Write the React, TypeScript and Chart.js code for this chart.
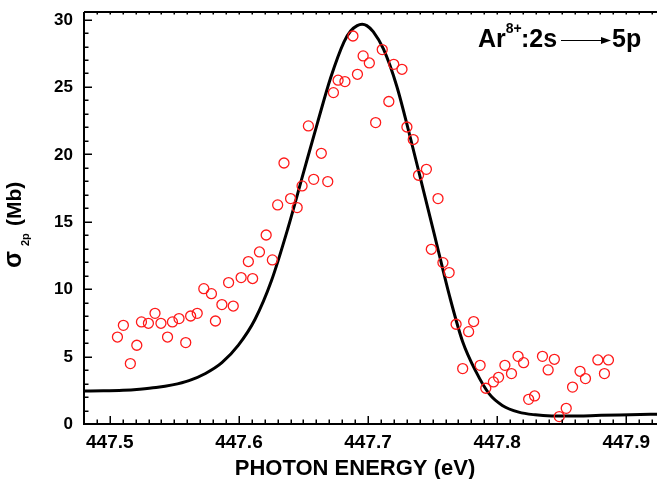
import { useEffect, useRef } from "react";
import { Chart, registerables } from "chart.js";

Chart.register(...registerables);

// Measured cross-section points (photon energy eV, sigma Mb)
const pointX = [
  447.5059, 447.5105, 447.5159, 447.5209, 447.5245, 447.5299, 447.535, 447.5396, 447.5447, 447.5485,
  447.5536, 447.5588, 447.5626, 447.5677, 447.5728, 447.5787, 447.5818, 447.5868, 447.592, 447.5956,
  447.6017, 447.6073, 447.6106, 447.6159, 447.6211, 447.6259, 447.63, 447.6349, 447.64, 447.6451,
  447.6489, 447.6538, 447.6579, 447.6638, 447.6688, 447.6732, 447.6768, 447.6821, 447.6883, 447.6918,
  447.6962, 447.701, 447.7059, 447.711, 447.7161, 447.7199, 447.7263, 447.7301, 447.735, 447.7391,
  447.7452, 447.749, 447.7542, 447.758, 447.7628, 447.7682, 447.7733, 447.7779, 447.7818, 447.7868,
  447.7912, 447.7971, 447.8011, 447.806, 447.8111, 447.8162, 447.8205, 447.8244, 447.829, 447.8351,
  447.8395, 447.8443, 447.8481, 447.8535, 447.8584, 447.8642, 447.8684, 447.878, 447.8831, 447.8862,
];
const pointY = [
  6.45, 7.32, 4.48, 5.84, 7.57, 7.47, 8.21, 7.47, 6.45, 7.57,
  7.82, 6.04, 8.01, 8.21, 10.04, 9.67, 7.64, 8.86, 10.49, 8.75,
  10.86, 12.05, 10.79, 12.76, 14.02, 12.17, 16.25, 19.36, 16.72, 16.05,
  17.66, 22.11, 18.15, 20.08, 17.98, 24.58, 25.5, 25.4, 28.78, 25.94,
  27.3, 26.78, 22.36, 27.77, 23.92, 26.68, 26.31, 22.03, 21.1, 18.45,
  18.89, 12.96, 16.72, 11.97, 11.23, 7.4, 4.11, 6.85, 7.6, 4.35,
  2.65, 3.12, 3.46, 4.35, 3.74, 5.02, 4.55, 1.83, 2.08, 5.02,
  4.01, 4.8, 0.55, 1.16, 2.74, 3.91, 3.37, 4.75, 3.74, 4.75,
];

// Fitted curve
const fitX = [
  447.4801, 447.4950, 447.5102, 447.5230, 447.5358, 447.5485, 447.5613, 447.5741, 447.5868, 447.5996,
  447.6124, 447.6251, 447.6379, 447.6507, 447.6609, 447.6711, 447.6814, 447.6865, 447.6916, 447.6954,
  447.6990, 447.7040, 447.7120, 447.7222, 447.7324, 447.7427, 447.7529, 447.7631, 447.7733, 447.7835,
  447.7937, 447.8040, 447.8167, 447.8295, 447.8423, 447.8550, 447.8806, 447.9189, 447.9290,
];
const fitY = [
  2.45, 2.46, 2.5, 2.58, 2.7, 2.9, 3.22, 3.75, 4.55, 5.85,
  7.75, 10.6, 14.5, 18.89, 22.36, 25.7, 28.35, 29.15, 29.55, 29.65,
  29.55, 29.1, 27.8, 25.07, 21.37, 17.41, 13.46, 9.5, 6.1, 3.9,
  2.25, 1.38, 0.88, 0.68, 0.6, 0.59, 0.64, 0.72, 0.73,
];

const xTickValues = [447.5, 447.6, 447.7, 447.8, 447.9];
const xTickLabels = ["447.5", "447.6", "447.7", "447.8", "447.9"];
const yTickValues = [0, 5, 10, 15, 20, 25, 30];
const yTickLabels = ["0", "5", "10", "15", "20", "25", "30"];

const X_MIN = 447.48;
const X_MAX = 447.929;
const Y_MIN = 0;
const Y_MAX = 30.56;

const FONT = "'Liberation Sans', Arial, Helvetica, sans-serif";

const decorPlugin = {
  id: "decor",
  afterDraw(chart: any) {
    const ctx: CanvasRenderingContext2D = chart.ctx;
    const { left, right, top, bottom } = chart.chartArea;
    const xs = chart.scales.x;
    const ys = chart.scales.y;
    ctx.save();
    ctx.strokeStyle = "#000";
    ctx.fillStyle = "#000";

    // frame
    ctx.lineWidth = 2;
    ctx.beginPath();
    ctx.moveTo(left, top);
    ctx.lineTo(left, bottom);
    ctx.lineTo(right, bottom);
    ctx.moveTo(left, top);
    ctx.lineTo(right, top);
    ctx.stroke();

    // x ticks (inward)
    ctx.lineWidth = 1.5;
    for (let i = Math.ceil(X_MIN * 100); i <= Math.floor(X_MAX * 100); i++) {
      const px = Math.round(xs.getPixelForValue(i / 100)) + 0.25;
      const major = i % 10 === 0;
      ctx.beginPath();
      ctx.moveTo(px, bottom);
      ctx.lineTo(px, bottom - (major ? 8 : 4.5));
      ctx.moveTo(px, top);
      ctx.lineTo(px, top + 2.5);
      ctx.stroke();
    }
    // y ticks (inward)
    for (let v = 1; v <= 30; v++) {
      const py = Math.round(ys.getPixelForValue(v)) + 0.25;
      const major = v % 5 === 0;
      ctx.beginPath();
      ctx.moveTo(left, py);
      ctx.lineTo(left + (major ? 8 : 4.5), py);
      ctx.stroke();
    }

    // x tick labels
    ctx.font = `bold 19px ${FONT}`;
    ctx.textAlign = "center";
    ctx.textBaseline = "alphabetic";
    xTickValues.forEach((v, i) => {
      ctx.fillText(xTickLabels[i], xs.getPixelForValue(v), 448);
    });
    // y tick labels
    ctx.font = `bold 17px ${FONT}`;
    ctx.textAlign = "right";
    ctx.textBaseline = "middle";
    yTickValues.forEach((v, i) => {
      ctx.fillText(yTickLabels[i], 73, ys.getPixelForValue(v) + 0.5);
    });

    // x title
    ctx.font = `bold 22px ${FONT}`;
    ctx.textAlign = "center";
    ctx.textBaseline = "alphabetic";
    ctx.fillText("PHOTON ENERGY (eV)", 355, 475);

    // y title (rotated)
    ctx.save();
    ctx.translate(21, 268);
    ctx.rotate(-Math.PI / 2);
    ctx.textAlign = "left";
    ctx.textBaseline = "alphabetic";
    ctx.font = `bold 25px ${FONT}`;
    ctx.fillText("σ", 0, 0);
    ctx.font = `bold 11px ${FONT}`;
    ctx.fillText("2p", 22, 8);
    ctx.font = `bold 21px ${FONT}`;
    ctx.fillText("(Mb)", 42, 0);
    ctx.restore();

    // annotation Ar8+:2s -> 5p
    ctx.textAlign = "left";
    ctx.textBaseline = "alphabetic";
    ctx.font = `bold 25px ${FONT}`;
    ctx.fillText("Ar", 478, 47);
    const wAr = ctx.measureText("Ar").width;
    ctx.font = `bold 14px ${FONT}`;
    ctx.fillText("8+", 478 + wAr, 33);
    ctx.font = `bold 25px ${FONT}`;
    ctx.fillText(":2s", 521, 47);
    // arrow
    ctx.lineWidth = 1;
    ctx.beginPath();
    ctx.moveTo(561, 40.5);
    ctx.lineTo(603, 40.5);
    ctx.stroke();
    ctx.beginPath();
    ctx.moveTo(611, 40.5);
    ctx.lineTo(601, 37);
    ctx.lineTo(601, 44);
    ctx.closePath();
    ctx.fill();
    ctx.fillText("5p", 612, 47);

    ctx.restore();
  },
};

export default function App() {
  const canvasRef = useRef<HTMLCanvasElement | null>(null);

  useEffect(() => {
    document.body.style.margin = "0";
    document.body.style.overflow = "hidden";
    const canvas = canvasRef.current;
    if (!canvas) return;
    const chart = new Chart(canvas, {
      type: "scatter",
      data: {
        datasets: [
          {
            type: "line",
            label: "fit",
            data: fitX.map((x, i) => ({ x, y: fitY[i] })),
            borderColor: "#000",
            borderWidth: 3,
            pointRadius: 0,
            fill: false,
            cubicInterpolationMode: "monotone",
            order: 2,
          } as any,
          {
            type: "scatter",
            label: "data",
            data: pointX.map((x, i) => ({ x, y: pointY[i] })),
            pointStyle: "circle",
            pointRadius: 5,
            pointBorderWidth: 1.3,
            pointBorderColor: "#ff1a1a",
            pointBackgroundColor: "rgba(0,0,0,0)",
            showLine: false,
            order: 1,
          } as any,
        ],
      },
      options: {
        animation: false,
        responsive: false,
        devicePixelRatio: 1,
        layout: { padding: { left: 84, top: 12, right: 0, bottom: 55 } },
        plugins: {
          legend: { display: false },
          tooltip: { enabled: false },
          title: { display: false },
        },
        scales: {
          x: { type: "linear", min: X_MIN, max: X_MAX, display: false },
          y: { type: "linear", min: Y_MIN, max: Y_MAX, display: false },
        },
      },
      plugins: [decorPlugin],
    });
    return () => chart.destroy();
  }, []);

  return (
    <div style={{ position: "fixed", left: 0, top: 0, width: 657, height: 479, overflow: "hidden", background: "#fff" }}>
      <canvas ref={canvasRef} width={670} height={479} style={{ display: "block", width: 670, height: 479 }} />
    </div>
  );
}
